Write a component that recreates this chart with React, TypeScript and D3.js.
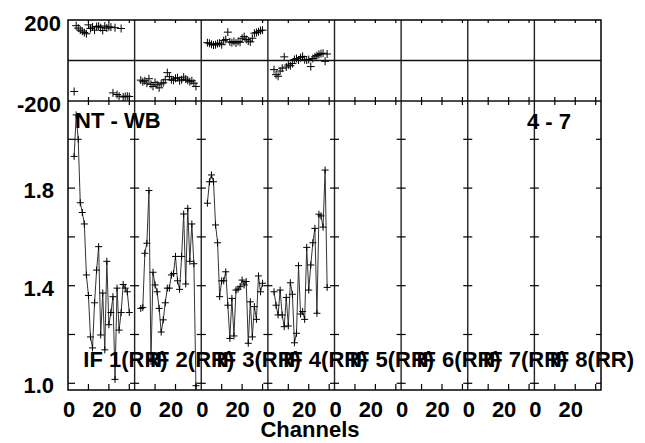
import React from "react";
import * as d3 from "d3";

const ifLabels = ["IF 1(RR)", "IF 2(RR)", "IF 3(RR)", "IF 4(RR)", "IF 5(RR)", "IF 6(RR)", "IF 7(RR)", "IF 8(RR)"];
const firstChannel = 3;

const amp1 = [1.93, 2.1, 2.0, 1.74, 1.7, 1.653, 1.444, 1.36, 1.19, 1.145, 1.33, 1.464, 1.56, 1.198, 1.37, 1.137, 1.5, 1.24, 1.29, 1.355, 1.016, 1.39, 1.218, 1.29, 1.405, 1.39, 1.375, 1.29];
const amp2 = [1.307, 1.311, 1.533, 1.574, 1.79, 1.09, 1.455, 1.403, 1.375, 1.307, 1.21, 1.26, 1.33, 1.39, 1.39, 1.444, 1.45, 1.52, 1.42, 1.385, 1.52, 1.694, 1.407, 1.717, 1.5, 1.653, 1.49, 0.99];
const amp3 = [1.738, 1.826, 1.854, 1.826, 1.649, 1.576, 1.355, 1.42, 1.42, 1.457, 1.32, 1.184, 1.348, 1.194, 1.382, 1.386, 1.396, 1.423, 1.403, 1.417, 1.164, 1.334, 1.19, 1.314, 1.262, 1.44, 1.375, 1.41];
const amp4 = [1.375, 1.32, 1.28, 1.382, 1.28, 1.232, 1.352, 1.235, 1.412, 1.365, 1.166, 1.205, 1.482, 1.284, 1.294, 1.262, 1.557, 1.382, 1.485, 1.576, 1.635, 1.287, 1.693, 1.686, 1.64, 1.874, 1.393];

const phase1 = [-153, 172, 160, 150, 145, 138, 132, 176, 158, 165, 150, 168, 170, 162, 148, 170, 160, 166, 165, -160, 162, -168, -176, 158, -180, -178, -176, -178];
const phase2 = [-97, -105, -100, -112, -90, -118, -128, -108, -120, -135, -115, -110, -95, -60, -80, -95, -98, -88, -85, -100, -95, -82, -92, -98, -105, -100, -112, -128];
const phase3 = [88, 85, 80, 76, 78, 84, 86, 78, 98, 104, 140, 92, 88, 94, 86, 94, 90, 110, 118, 104, 96, 92, 110, 135, 138, 142, 148, 150];
const phase4 = [-45, -70, -78, -52, -38, 18, -32, -22, -26, -15, 5, 10, 2, 14, 20, 4, 2, 5, -30, 10, 18, 24, 30, 34, 36, -4, 32];

const ampSeries = [amp1, amp2, amp3, amp4];
const phaseSeries = [phase1, phase2, phase3, phase4];

const ampTicks = [1.0, 1.2, 1.4, 1.6, 1.8, 2.0];
const ampTickLabels = ["1.0", "1.4", "1.8"];
const phaseTickLabels = ["200", "-200"];
const channelTicks = [10, 20, 30];
const channelLabels = ["0", "20"];

const L = 68, R = 601, TOP = 20, MID = 101, BOT = 390;
const NP = 8;
const CH_MAX = 32.6;
const FONT = "'Liberation Sans', Arial, Helvetica, sans-serif";

export default function App() {
  const panelX = d3.scaleLinear().domain([0, NP]).range([L, R]);
  const chScale = (i: number) => d3.scaleLinear().domain([0, CH_MAX]).range([panelX(i), panelX(i + 1)]);
  const yAmp = d3.scaleLinear().domain([0.9725, 2.157]).range([BOT, MID]);
  const yPh = d3.scaleLinear().domain([-200, 200]).range([MID, TOP]);

  const plus = (x: number, y: number, a: number, key: string) => (
    <path key={key} d={`M${x - a},${y}H${x + a}M${x},${y - a}V${y + a}`} stroke="#000" strokeWidth={1} fill="none" />
  );

  const elems: any[] = [];
  for (let p = 0; p < NP; p++) {
    const xs = chScale(p);
    // x ticks
    channelTicks.forEach((c) => {
      const x = xs(c);
      elems.push(<line key={`tb${p}-${c}`} x1={x} x2={x} y1={BOT} y2={BOT - 6} stroke="#000" strokeWidth={1.2} />);
      elems.push(<line key={`tm${p}-${c}`} x1={x} x2={x} y1={MID - 4} y2={MID + 4} stroke="#000" strokeWidth={1.2} />);
      elems.push(<line key={`tt${p}-${c}`} x1={x} x2={x} y1={TOP} y2={TOP + 3} stroke="#000" strokeWidth={1.2} />);
    });
    // y ticks at separators
    ampTicks.forEach((v) => {
      const y = yAmp(v);
      const x = panelX(p);
      const left = p === 0 ? 0 : 4.5;
      elems.push(<line key={`ya${p}-${v}`} x1={x - left} x2={x + (p === 0 ? 7 : 4.5)} y1={y} y2={y} stroke="#000" strokeWidth={1.2} />);
    });
  }
  ampTicks.forEach((v) => {
    const y = yAmp(v);
    elems.push(<line key={`yr-${v}`} x1={R - 5} x2={R} y1={y} y2={y} stroke="#000" strokeWidth={1.2} />);
  });

  const lineGen = d3.line<[number, number]>().x((d) => d[0]).y((d) => d[1]);

  const data: any[] = [];
  ampSeries.forEach((arr, p) => {
    const xs = chScale(p);
    const pts: [number, number][] = arr.map((v, i) => [xs(firstChannel + i), yAmp(v)]);
    data.push(<path key={`al${p}`} d={lineGen(pts) || ""} stroke="#333" strokeWidth={1} fill="none" />);
    pts.forEach((q, i) => data.push(plus(q[0], q[1], 3.5, `ap${p}-${i}`)));
  });
  phaseSeries.forEach((arr, p) => {
    const xs = chScale(p);
    arr.forEach((v, i) => data.push(plus(xs(firstChannel + i), yPh(v), 4, `pp${p}-${i}`)));
  });

  return (
    <svg width={645} height={443} style={{ position: "absolute", left: 0, top: 0, background: "#fff" }}>
      <rect x={0} y={0} width={645} height={443} fill="#fff" />
      {data}
      {/* separators */}
      {d3.range(1, NP).map((p) => (
        <line key={`sep${p}`} x1={panelX(p)} x2={panelX(p)} y1={TOP} y2={BOT} stroke="#222" strokeWidth={1.4} />
      ))}
      <line x1={L} x2={R} y1={yPh(0)} y2={yPh(0)} stroke="#111" strokeWidth={1.3} />
      <line x1={L} x2={R} y1={MID} y2={MID} stroke="#111" strokeWidth={1.4} />
      <rect x={L} y={TOP} width={R - L} height={BOT - TOP} fill="none" stroke="#000" strokeWidth={1.5} />
      {elems}
      <g fontFamily={FONT} fontWeight="bold" fontSize={22} fill="#000">
        <text x={61} y={yPh(200) + 11} textAnchor="end">{phaseTickLabels[0]}</text>
        <text x={61} y={yPh(-200) + 11} textAnchor="end">{phaseTickLabels[1]}</text>
        {ampTickLabels.map((t) => (
          <text key={t} x={54} y={yAmp(+t) + 10} textAnchor="end">{t}</text>
        ))}
        {d3.range(NP).map((p) => {
          const xs = chScale(p);
          return (
            <g key={`xl${p}`}>
              <text x={xs(0) + 1} y={417} textAnchor="middle">{channelLabels[0]}</text>
              <text x={xs(20) - 4.5} y={417} textAnchor="middle">{channelLabels[1]}</text>
            </g>
          );
        })}
        {ifLabels.map((t, p) => (
          <text key={t} x={panelX(p) + 15.3} y={367}>{t}</text>
        ))}
        <text x={75} y={128}>NT - WB</text>
        <text x={527} y={129}>4 - 7</text>
        <text x={310} y={437} textAnchor="middle">Channels</text>
      </g>
    </svg>
  );
}
